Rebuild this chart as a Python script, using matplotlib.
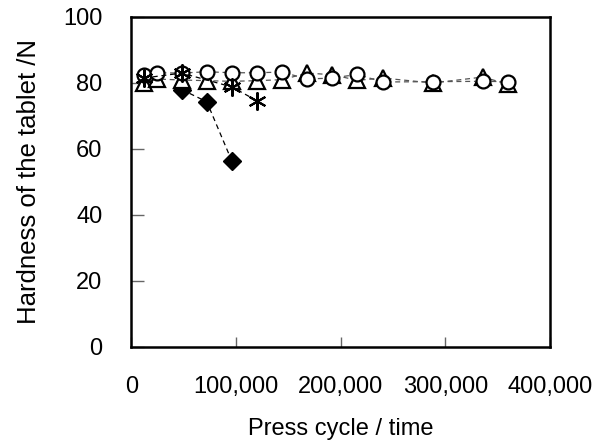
import matplotlib.pyplot as plt
import matplotlib.ticker as mticker

plt.rcParams['font.family'] = ['Liberation Sans', 'DejaVu Sans']

# Press cycles (times)
cycles = [12000, 24000, 48000, 72000, 96000, 120000, 144000, 168000,
          192000, 216000, 240000, 288000, 336000, 360000]

# Hardness (N) for each formulation
hard_circle = [82.4, 83.1, 83.0, 83.4, 83.1, 83.1, 83.3, 81.2,
               81.5, 82.6, 80.3, 80.4, 80.5, 80.4]
hard_triangle = [80.0, 81.2, 80.9, 80.7, 80.5, 80.7, 81.0, 83.0,
                 82.5, 80.8, 81.5, 80.0, 81.8, 79.6]
cycles_star = [12000, 48000, 96000, 120000]
hard_star = [81.5, 83.0, 78.8, 74.6]
cycles_diamond = [48000, 72000, 96000]
hard_diamond = [78.0, 74.3, 56.3]

fig = plt.figure(figsize=(6.01, 4.41), dpi=100)
ax = fig.add_axes([0.2188, 0.2132, 0.6962, 0.7483])

dash = (0, (4, 3))
ax.plot(cycles_diamond, hard_diamond, linestyle=dash, color='black', lw=0.9,
        marker='D', ms=9, mfc='black', mec='black', zorder=2)
ax.plot(cycles, hard_triangle, linestyle=dash, color='#555555', lw=0.9,
        marker='^', ms=11, mfc='white', mec='black', mew=1.6, zorder=3)
ax.plot(cycles, hard_circle, linestyle=dash, color='#555555', lw=0.9,
        marker='o', ms=10, mfc='white', mec='black', mew=1.6, zorder=4)
ax.plot(cycles_star, hard_star, linestyle=dash, color='black', lw=0.9,
        marker=(6, 2, 0), ms=13, mfc='black', mec='black', mew=1.5, zorder=5)

ax.set_xlim(0, 400000)
ax.set_ylim(0, 100)
ax.set_xticks([0, 100000, 200000, 300000, 400000])
ax.set_yticks([0, 20, 40, 60, 80, 100])
ax.xaxis.set_major_formatter(mticker.StrMethodFormatter('{x:,.0f}'))

for s in ax.spines.values():
    s.set_linewidth(1.8)
    s.set_color('black')

ax.tick_params(axis='y', direction='in', length=9, width=1, color='#666666',
               pad=21, labelsize=17)
ax.tick_params(axis='x', direction='in', length=7, width=1, color='#666666',
               pad=21, labelsize=17)

ax.set_xlabel('Press cycle / time', fontsize=17, labelpad=14)
ax.set_ylabel('Hardness of the tablet /N', fontsize=18.5, labelpad=16)

fig.savefig('out.png', dpi=100)
